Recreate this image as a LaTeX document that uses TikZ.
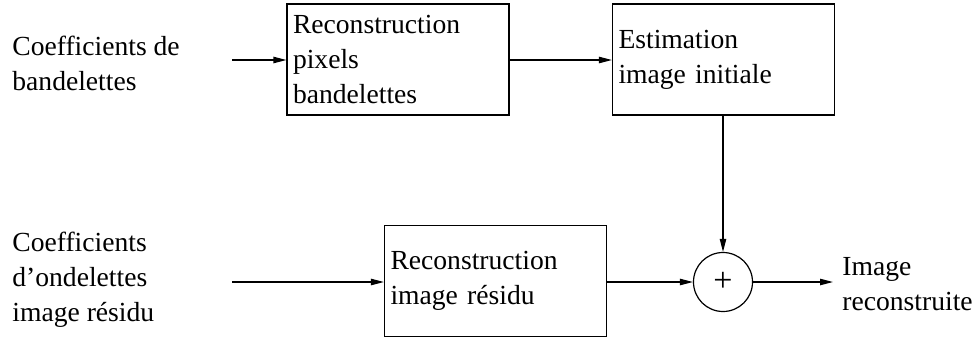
\documentclass[tikz,border=0pt]{standalone}
\usepackage{fontspec}
\setmainfont{Liberation Serif}
\usetikzlibrary{arrows.meta}

\tikzset{
  blk/.style={draw, line width=0.6pt, minimum width=111pt, minimum height=55.5pt,
    text width=105pt, inner xsep=3pt, align=left},
  sumnode/.style={draw, circle, line width=0.6pt, minimum size=29.5pt, inner sep=0pt,
    font=\fontsize{17}{17}\selectfont},
  lbl/.style={align=left, inner sep=0pt, anchor=west},
  arr/.style={-{Triangle[length=6.5pt,width=3.2pt]}, line width=0.6pt}
}

\begin{document}
\begin{tikzpicture}[x=0.5pt, y=-0.5pt, font=\fontsize{13.8}{17.5}\selectfont]
  \useasboundingbox (0,0) rectangle (974,338);
  % inputs
  \node[lbl] (inband) at (12,63) {Coefficients de\\bandelettes};
  \node[lbl] (inond) at (12,280) {Coefficients\\d’ondelettes\\image résidu};
  \coordinate (sband) at (232,60);
  \coordinate (sond) at (232,282);
  % blocks
  \node[blk] (recband) at (398,59.5) {Reconstruction\\pixels\\bandelettes};
  \node[blk] (estim) at (723.5,59.5) {Estimation\\image initiale};
  \node[blk] (recres) at (495.5,281) {Reconstruction\\image résidu};
  \node[sumnode] (sum) at (723,282) {+};
  % output
  \node[lbl] (out) at (842,284) {Image\\reconstruite};
  \coordinate (eout) at (833,282);
  % connectors
  \draw[arr] (sband) -- (recband.west |- sband);
  \draw[arr] (recband.east |- sband) -- (estim.west |- sband);
  \draw[arr] (estim.south -| sum) -- (sum);
  \draw[arr] (sond) -- (recres.west |- sond);
  \draw[arr] (recres.east |- sum) -- (sum);
  \draw[arr] (sum) -- (eout);
\end{tikzpicture}
\end{document}
